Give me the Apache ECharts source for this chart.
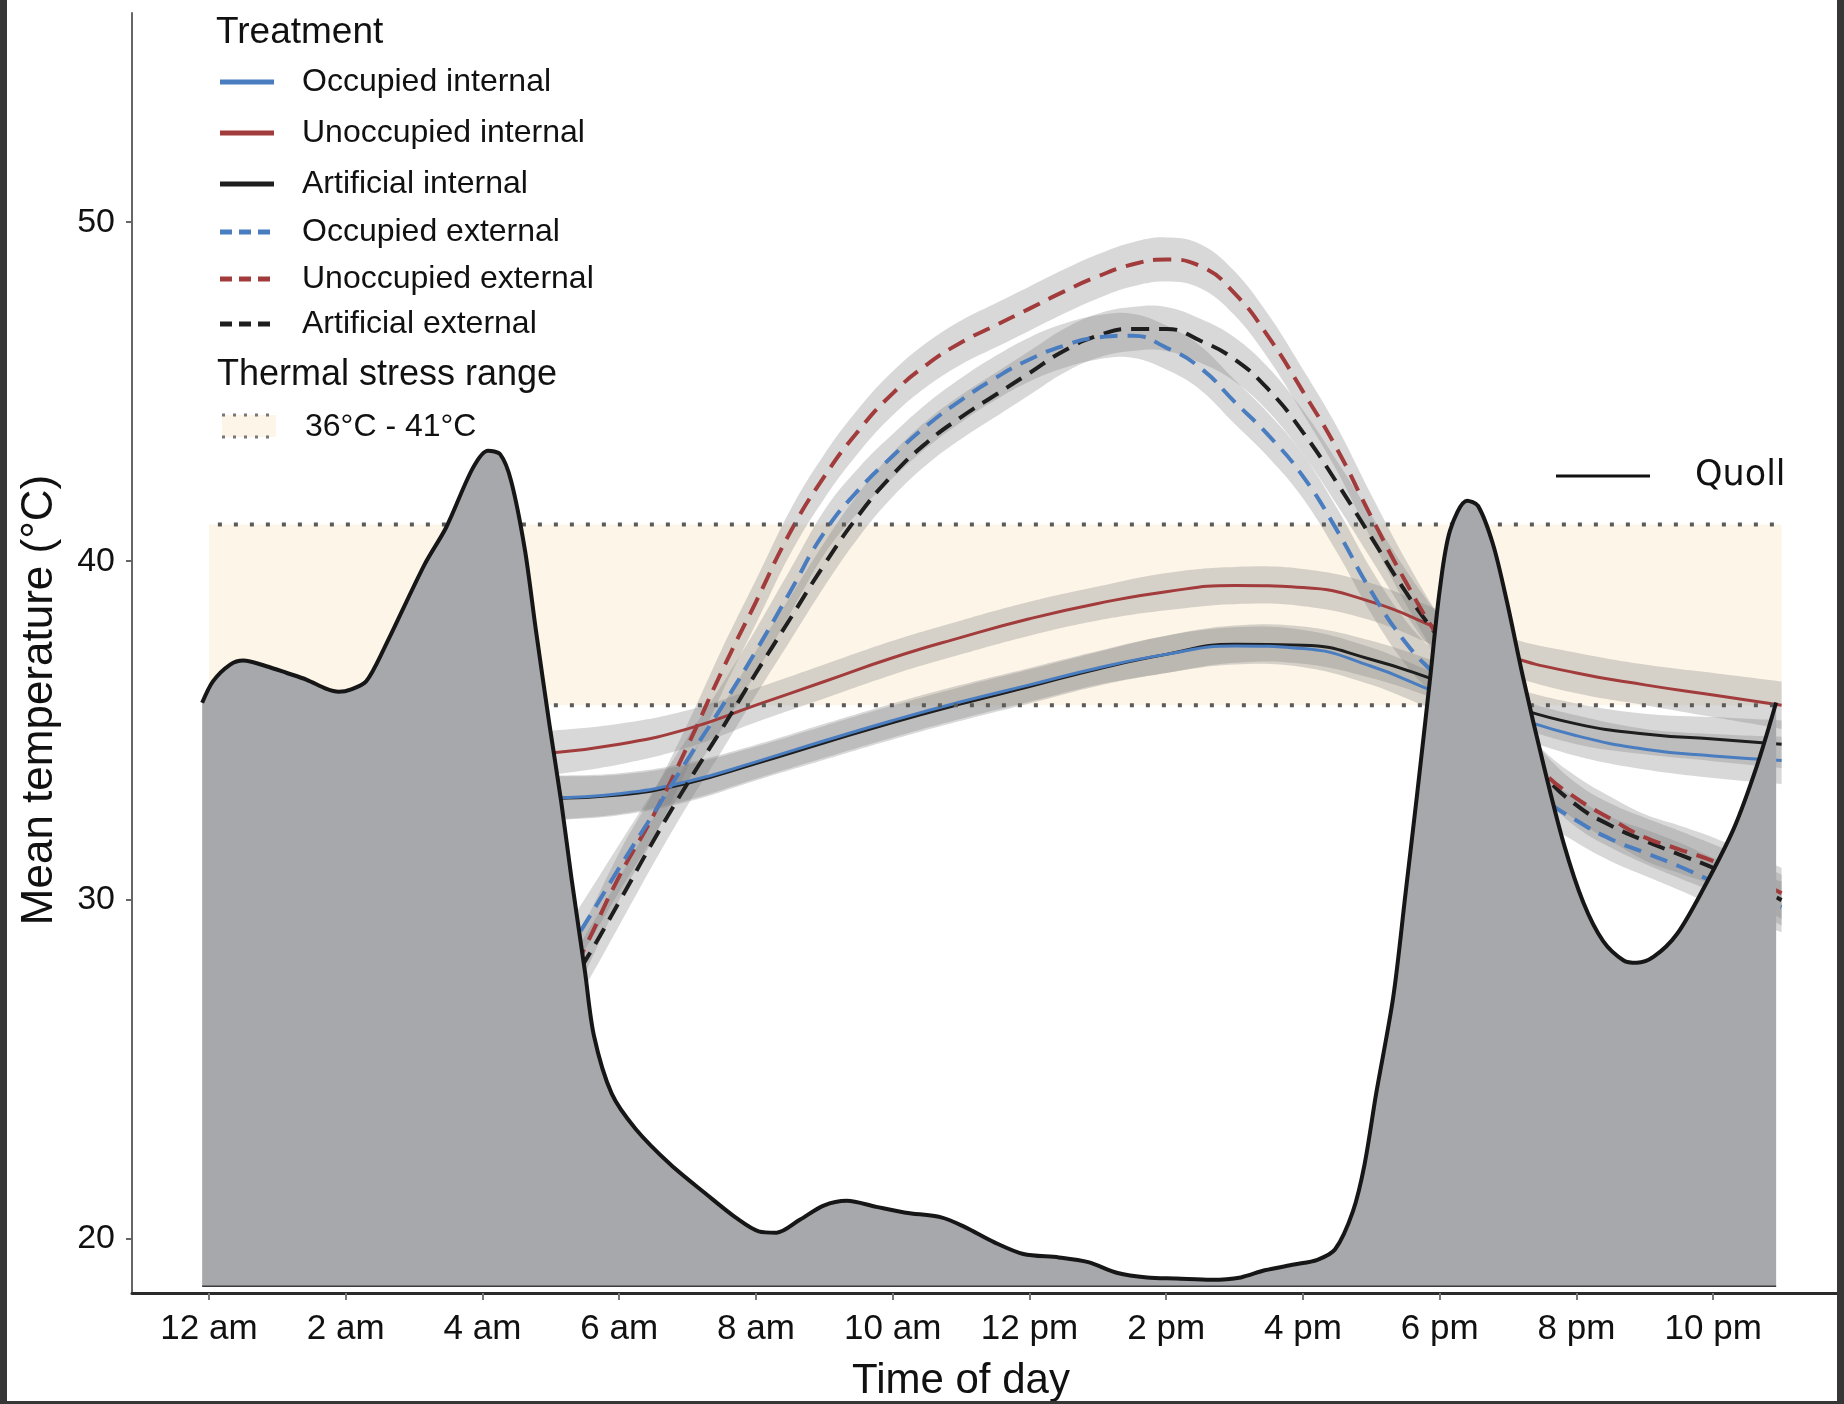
<!DOCTYPE html>
<html><head><meta charset="utf-8">
<script src="https://cdn.jsdelivr.net/npm/echarts@6/dist/echarts.min.js"></script>
<style>html,body{margin:0;padding:0;background:#fff}#c{width:1844px;height:1404px}</style>
</head><body><div id="c"></div>
<script>
// ---- axis ticks ----
const tickHours = [0, 2, 4, 6, 8, 10, 12, 14, 16, 18, 20, 22];
const tickLabels = ['12 am', '2 am', '4 am', '6 am', '8 am', '10 am', '12 pm', '2 pm', '4 pm', '6 pm', '8 pm', '10 pm'];
const yTicks = [20, 30, 40, 50];

// ---- thermal stress range ----
const stressLow = 35.75;
const stressHigh = 41.08;
const stressSpan = [0, 23];

// ---- quoll temperature profile ----
const quollHours = [-0.1, 0.06, 0.31, 0.5, 0.84, 1.14, 1.43, 1.72, 1.9, 2.08, 2.3, 2.56, 3.15, 3.47, 3.86, 4.08, 4.26, 4.42, 4.62, 4.78, 4.98, 5.15, 5.3, 5.5, 5.63, 5.89, 6.24, 6.75, 7.27, 7.7, 8.04, 8.3, 8.64, 8.99, 9.33, 9.76, 10.19, 10.71, 11.05, 11.48, 11.91, 12.43, 12.86, 13.29, 13.72, 14.15, 14.66, 15.09, 15.44, 15.87, 16.21, 16.47, 16.73, 16.9, 17.07, 17.32, 17.5, 17.67, 17.86, 18.0, 18.15, 18.4, 18.56, 18.78, 18.98, 19.22, 19.52, 19.81, 20.1, 20.39, 20.69, 20.88, 21.13, 21.47, 21.86, 22.3, 22.64, 22.92];
const quollTemp = [35.82, 36.46, 36.95, 37.07, 36.9, 36.7, 36.5, 36.23, 36.15, 36.22, 36.46, 37.42, 39.89, 41.0, 42.75, 43.26, 43.15, 42.36, 40.34, 37.98, 35.17, 32.92, 30.67, 27.87, 26.0, 24.29, 23.25, 22.2, 21.33, 20.64, 20.23, 20.19, 20.57, 20.99, 21.13, 20.95, 20.78, 20.64, 20.36, 19.91, 19.56, 19.46, 19.32, 19.0, 18.87, 18.84, 18.8, 18.87, 19.08, 19.25, 19.39, 19.7, 20.82, 22.2, 24.29, 27.14, 30.2, 33.14, 36.56, 39.15, 40.9, 41.78, 41.63, 40.49, 38.83, 36.56, 33.97, 31.69, 29.93, 28.79, 28.22, 28.15, 28.33, 29.0, 30.35, 32.11, 33.97, 35.83];
const quollBase = 18.61;

// ---- internal (solid) treatments ----
const intHours = [5, 6, 7, 8, 9, 10, 11, 12, 13, 14, 15, 16, 17, 18, 19, 20, 21, 22, 23];
const occupiedInternal   = [33.02, 33.14, 33.5, 34.08, 34.7, 35.3, 35.85, 36.35, 36.85, 37.25, 37.5, 37.42, 36.9, 36.1, 35.45, 34.85, 34.45, 34.25, 34.12];
const unoccupiedInternal = [34.34, 34.6, 35.05, 35.75, 36.45, 37.15, 37.75, 38.3, 38.75, 39.1, 39.28, 39.22, 38.8, 38.0, 37.2, 36.7, 36.35, 36.05, 35.75];
const artificialInternal = [33.0, 33.1, 33.45, 34.03, 34.64, 35.24, 35.79, 36.3, 36.82, 37.25, 37.55, 37.52, 37.1, 36.45, 35.75, 35.2, 34.9, 34.75, 34.6];
const ciInternal = [0.65, 0.6, 0.55, 0.5, 0.5, 0.5, 0.5, 0.5, 0.5, 0.55, 0.55, 0.55, 0.55, 0.55, 0.55, 0.6, 0.6, 0.65, 0.7];

// ---- external (dashed) treatments, half-hourly ----
const extHours = [5, 5.5, 6, 6.5, 7, 7.5, 8, 8.5, 9, 9.5, 10, 10.5, 11, 11.5, 12, 12.5, 13, 13.5, 14, 14.5, 15, 15.5, 16, 16.5, 17, 17.5, 18, 18.5, 19, 19.5, 20, 20.5, 21, 21.5, 22, 22.5, 23];
const occupiedExternal   = [27.7, 29.3, 30.95, 32.55, 34.15, 35.7, 37.35, 39.1, 40.85, 42.1, 43.1, 44.0, 44.75, 45.4, 45.95, 46.35, 46.6, 46.65, 46.3, 45.7, 44.7, 43.7, 42.5, 40.9, 39.1, 37.6, 36.5, 35.35, 34.2, 33.05, 32.35, 31.8, 31.4, 31.0, 30.55, 30.15, 29.8];
const unoccupiedExternal = [26.6, 28.6, 30.7, 32.5, 34.55, 36.75, 38.8, 40.85, 42.5, 43.85, 44.95, 45.8, 46.45, 46.95, 47.45, 47.95, 48.4, 48.75, 48.9, 48.7, 47.9, 46.6, 45.0, 43.3, 41.3, 39.4, 37.7, 36.3, 35.0, 33.8, 33.0, 32.4, 31.85, 31.5, 31.15, 30.7, 30.2];
const artificialExternal = [26.6, 28.2, 29.95, 31.75, 33.45, 35.05, 36.7, 38.3, 39.9, 41.35, 42.55, 43.5, 44.25, 44.9, 45.55, 46.2, 46.65, 46.85, 46.85, 46.5, 45.95, 45.05, 43.8, 42.3, 40.7, 39.1, 37.7, 36.4, 35.1, 33.75, 32.8, 32.2, 31.75, 31.35, 30.95, 30.5, 30.0];
const ciExternal = [0.8, 0.75, 0.7, 0.68, 0.65, 0.65, 0.65, 0.65, 0.65, 0.65, 0.65, 0.65, 0.65, 0.65, 0.65, 0.65, 0.65, 0.65, 0.65, 0.65, 0.65, 0.65, 0.65, 0.65, 0.65, 0.65, 0.65, 0.65, 0.65, 0.65, 0.65, 0.65, 0.68, 0.7, 0.7, 0.72, 0.75];

const BLUE = '#4A7DC0', RED = '#A23B3B', BLACK = '#1E1E1E';
const DASH = [18, 10];
const FONT = 'Liberation Sans, Arial, Helvetica, sans-serif';
const SMOOTH = 0.5;

// legend order
const treatments = [
  {name: 'Occupied internal',   hours: intHours, vals: occupiedInternal,   ci: ciInternal, color: BLUE,  dash: 'solid', width: 3, z: 3.3},
  {name: 'Unoccupied internal', hours: intHours, vals: unoccupiedInternal, ci: ciInternal, color: RED,   dash: 'solid', width: 3, z: 3.2},
  {name: 'Artificial internal', hours: intHours, vals: artificialInternal, ci: ciInternal, color: BLACK, dash: 'solid', width: 3, z: 3.1},
  {name: 'Occupied external',   hours: extHours, vals: occupiedExternal,   ci: ciExternal, color: BLUE,  dash: DASH, width: 4, z: 3.6},
  {name: 'Unoccupied external', hours: extHours, vals: unoccupiedExternal, ci: ciExternal, color: RED,   dash: DASH, width: 4, z: 3.5},
  {name: 'Artificial external', hours: extHours, vals: artificialExternal, ci: ciExternal, color: BLACK, dash: DASH, width: 4, z: 3.4}
];

// smooth path helper (bezier through pixel points)
function smoothSeg(pts, k, first) {
  let d = (first ? 'M' : 'L') + pts[0][0] + ',' + pts[0][1];
  for (let i = 0; i < pts.length - 1; i++) {
    const p0 = pts[Math.max(0, i - 1)], p1 = pts[i], p2 = pts[i + 1], p3 = pts[Math.min(pts.length - 1, i + 2)];
    const c1 = [p1[0] + (p2[0] - p0[0]) * k, p1[1] + (p2[1] - p0[1]) * k];
    const c2 = [p2[0] - (p3[0] - p1[0]) * k, p2[1] - (p3[1] - p1[1]) * k];
    d += 'C' + c1[0] + ',' + c1[1] + ',' + c2[0] + ',' + c2[1] + ',' + p2[0] + ',' + p2[1];
  }
  return d;
}

const series = [];
// thermal stress band
series.push({
  type: 'line', name: 'stressBand', silent: true, symbol: 'none', z: 1,
  data: [[stressSpan[0], stressHigh], [stressSpan[1], stressHigh]],
  lineStyle: {opacity: 0},
  areaStyle: {color: '#FDF5E8', opacity: 1, origin: stressLow}
});
// confidence ribbons
treatments.forEach((t, k) => {
  series.push({
    type: 'custom', name: 'ci' + k, silent: true, z: 2, clip: true,
    data: t.hours.map((h, i) => [h, t.vals[i] - t.ci[i], t.vals[i] + t.ci[i]]),
    encode: {x: 0, y: [1, 2]},
    renderItem: function (params, api) {
      if (params.dataIndex !== 0) return null;
      const n = t.hours.length, up = [], lo = [];
      for (let i = 0; i < n; i++) {
        up.push(api.coord([t.hours[i], t.vals[i] + t.ci[i]]));
        lo.push(api.coord([t.hours[n - 1 - i], t.vals[n - 1 - i] - t.ci[n - 1 - i]]));
      }
      const d = smoothSeg(up, 0.2, true) + smoothSeg(lo, 0.2, false) + 'Z';
      return {type: 'path', shape: {pathData: d}, style: {fill: 'rgba(125,125,125,0.3)', stroke: null}};
    }
  });
});
// treatment lines
treatments.forEach((t) => {
  series.push({
    type: 'line', name: t.name, silent: true, symbol: 'none', smooth: SMOOTH, z: t.z,
    data: t.hours.map((h, i) => [h, t.vals[i]]),
    lineStyle: {color: t.color, width: t.width, type: t.dash, cap: 'butt'}
  });
});
// dotted limits
[stressHigh, stressLow].forEach((v, k) => {
  series.push({
    type: 'line', name: 'limit' + k, silent: true, symbol: 'none', z: 4,
    data: [[stressSpan[0] + 0.13, v], [stressSpan[1], v]],
    lineStyle: {color: '#5a5a5a', width: 4, type: [4, 12], cap: 'butt'}
  });
});
// quoll
series.push({
  type: 'line', name: 'Quoll', silent: true, symbol: 'none', smooth: 0.3, z: 5,
  data: quollHours.map((h, i) => [h, quollTemp[i]]),
  lineStyle: {color: '#161616', width: 4, join: 'round'},
  areaStyle: {color: '#A7A8AC', opacity: 1, origin: quollBase}
});
series.push({
  type: 'line', name: 'quollBase', silent: true, symbol: 'none', z: 6,
  data: [[quollHours[0], quollBase], [quollHours[quollHours.length - 1], quollBase]],
  lineStyle: {color: '#3a3a3a', width: 1.5}
});

// legend graphics
const legendRows = [82, 133, 184, 232, 279, 324];
const els = [];
els.push({type: 'text', x: 216, y: 33, style: {text: 'Treatment', font: '37px ' + FONT, fill: '#111', textVerticalAlign: 'middle'}});
treatments.forEach((t, i) => {
  els.push({type: 'line', shape: {x1: 220, y1: legendRows[i], x2: 274, y2: legendRows[i]},
    style: {stroke: t.color, lineWidth: 5, lineDash: t.dash === 'solid' ? null : [12, 7]}});
  els.push({type: 'text', x: 302, y: legendRows[i], style: {text: t.name, font: '32px ' + FONT, fill: '#111', textVerticalAlign: 'middle'}});
});
els.push({type: 'text', x: 217, y: 375, style: {text: 'Thermal stress range', font: '36px ' + FONT, fill: '#111', textVerticalAlign: 'middle'}});
els.push({type: 'rect', shape: {x: 222, y: 415, width: 54, height: 22}, style: {fill: '#FDF5E8'}});
els.push({type: 'line', shape: {x1: 222, y1: 415, x2: 276, y2: 415}, style: {stroke: '#777', lineWidth: 3, lineDash: [3, 8]}});
els.push({type: 'line', shape: {x1: 222, y1: 437, x2: 276, y2: 437}, style: {stroke: '#777', lineWidth: 3, lineDash: [3, 8]}});
els.push({type: 'text', x: 305, y: 427, style: {text: '36°C - 41°C', font: '32px ' + FONT, fill: '#111', textVerticalAlign: 'middle'}});
// quoll legend
els.push({type: 'line', shape: {x1: 1556, y1: 476, x2: 1650, y2: 476}, style: {stroke: '#111', lineWidth: 3}});
els.push({type: 'text', x: 1695, y: 476, style: {text: 'Quoll', font: '35px DejaVu Sans, sans-serif', fill: '#111', textVerticalAlign: 'middle'}});
// axis titles
els.push({type: 'text', x: 961, y: 1381, style: {text: 'Time of day', font: '42px ' + FONT, fill: '#111', textAlign: 'center', textVerticalAlign: 'middle'}});
els.push({type: 'text', x: 40, y: 700, rotation: Math.PI / 2, style: {text: 'Mean temperature (°C)', font: '44px ' + FONT, fill: '#111', textAlign: 'center', textVerticalAlign: 'middle'}});
// dark frame
els.push({type: 'rect', shape: {x: 0, y: 0, width: 7, height: 1404}, style: {fill: '#363636'}, z: 100});
els.push({type: 'rect', shape: {x: 1837, y: 0, width: 7, height: 1404}, style: {fill: '#363636'}, z: 100});
els.push({type: 'rect', shape: {x: 0, y: 1401, width: 1844, height: 3}, style: {fill: '#363636'}, z: 100});

const chart = echarts.init(document.getElementById('c'), null, {renderer: 'canvas'});
chart.setOption({
  animation: false,
  backgroundColor: '#ffffff',
  grid: {left: 132, right: 7, top: 13, bottom: 111, containLabel: false, outerBoundsMode: 'none'},
  xAxis: {
    type: 'value', min: -1.126, max: 23.81,
    axisLine: {show: true, onZero: false, lineStyle: {color: '#2a2a2a', width: 3}},
    axisTick: {show: true, customValues: tickHours, length: 7, lineStyle: {color: '#777', width: 2}},
    axisLabel: {customValues: tickHours, formatter: (v) => tickLabels[tickHours.indexOf(v)], fontSize: 35, color: '#111', margin: 19, fontFamily: FONT},
    splitLine: {show: false}
  },
  yAxis: {
    type: 'value', min: 18.41, max: 56.17,
    axisLine: {show: true, onZero: false, lineStyle: {color: '#666', width: 2}},
    axisTick: {show: true, customValues: yTicks, length: 6, lineStyle: {color: '#666', width: 2}},
    axisLabel: {customValues: yTicks, fontSize: 34, color: '#111', margin: 17, fontFamily: FONT},
    splitLine: {show: false}
  },
  graphic: els,
  series: series
});
</script></body></html>
